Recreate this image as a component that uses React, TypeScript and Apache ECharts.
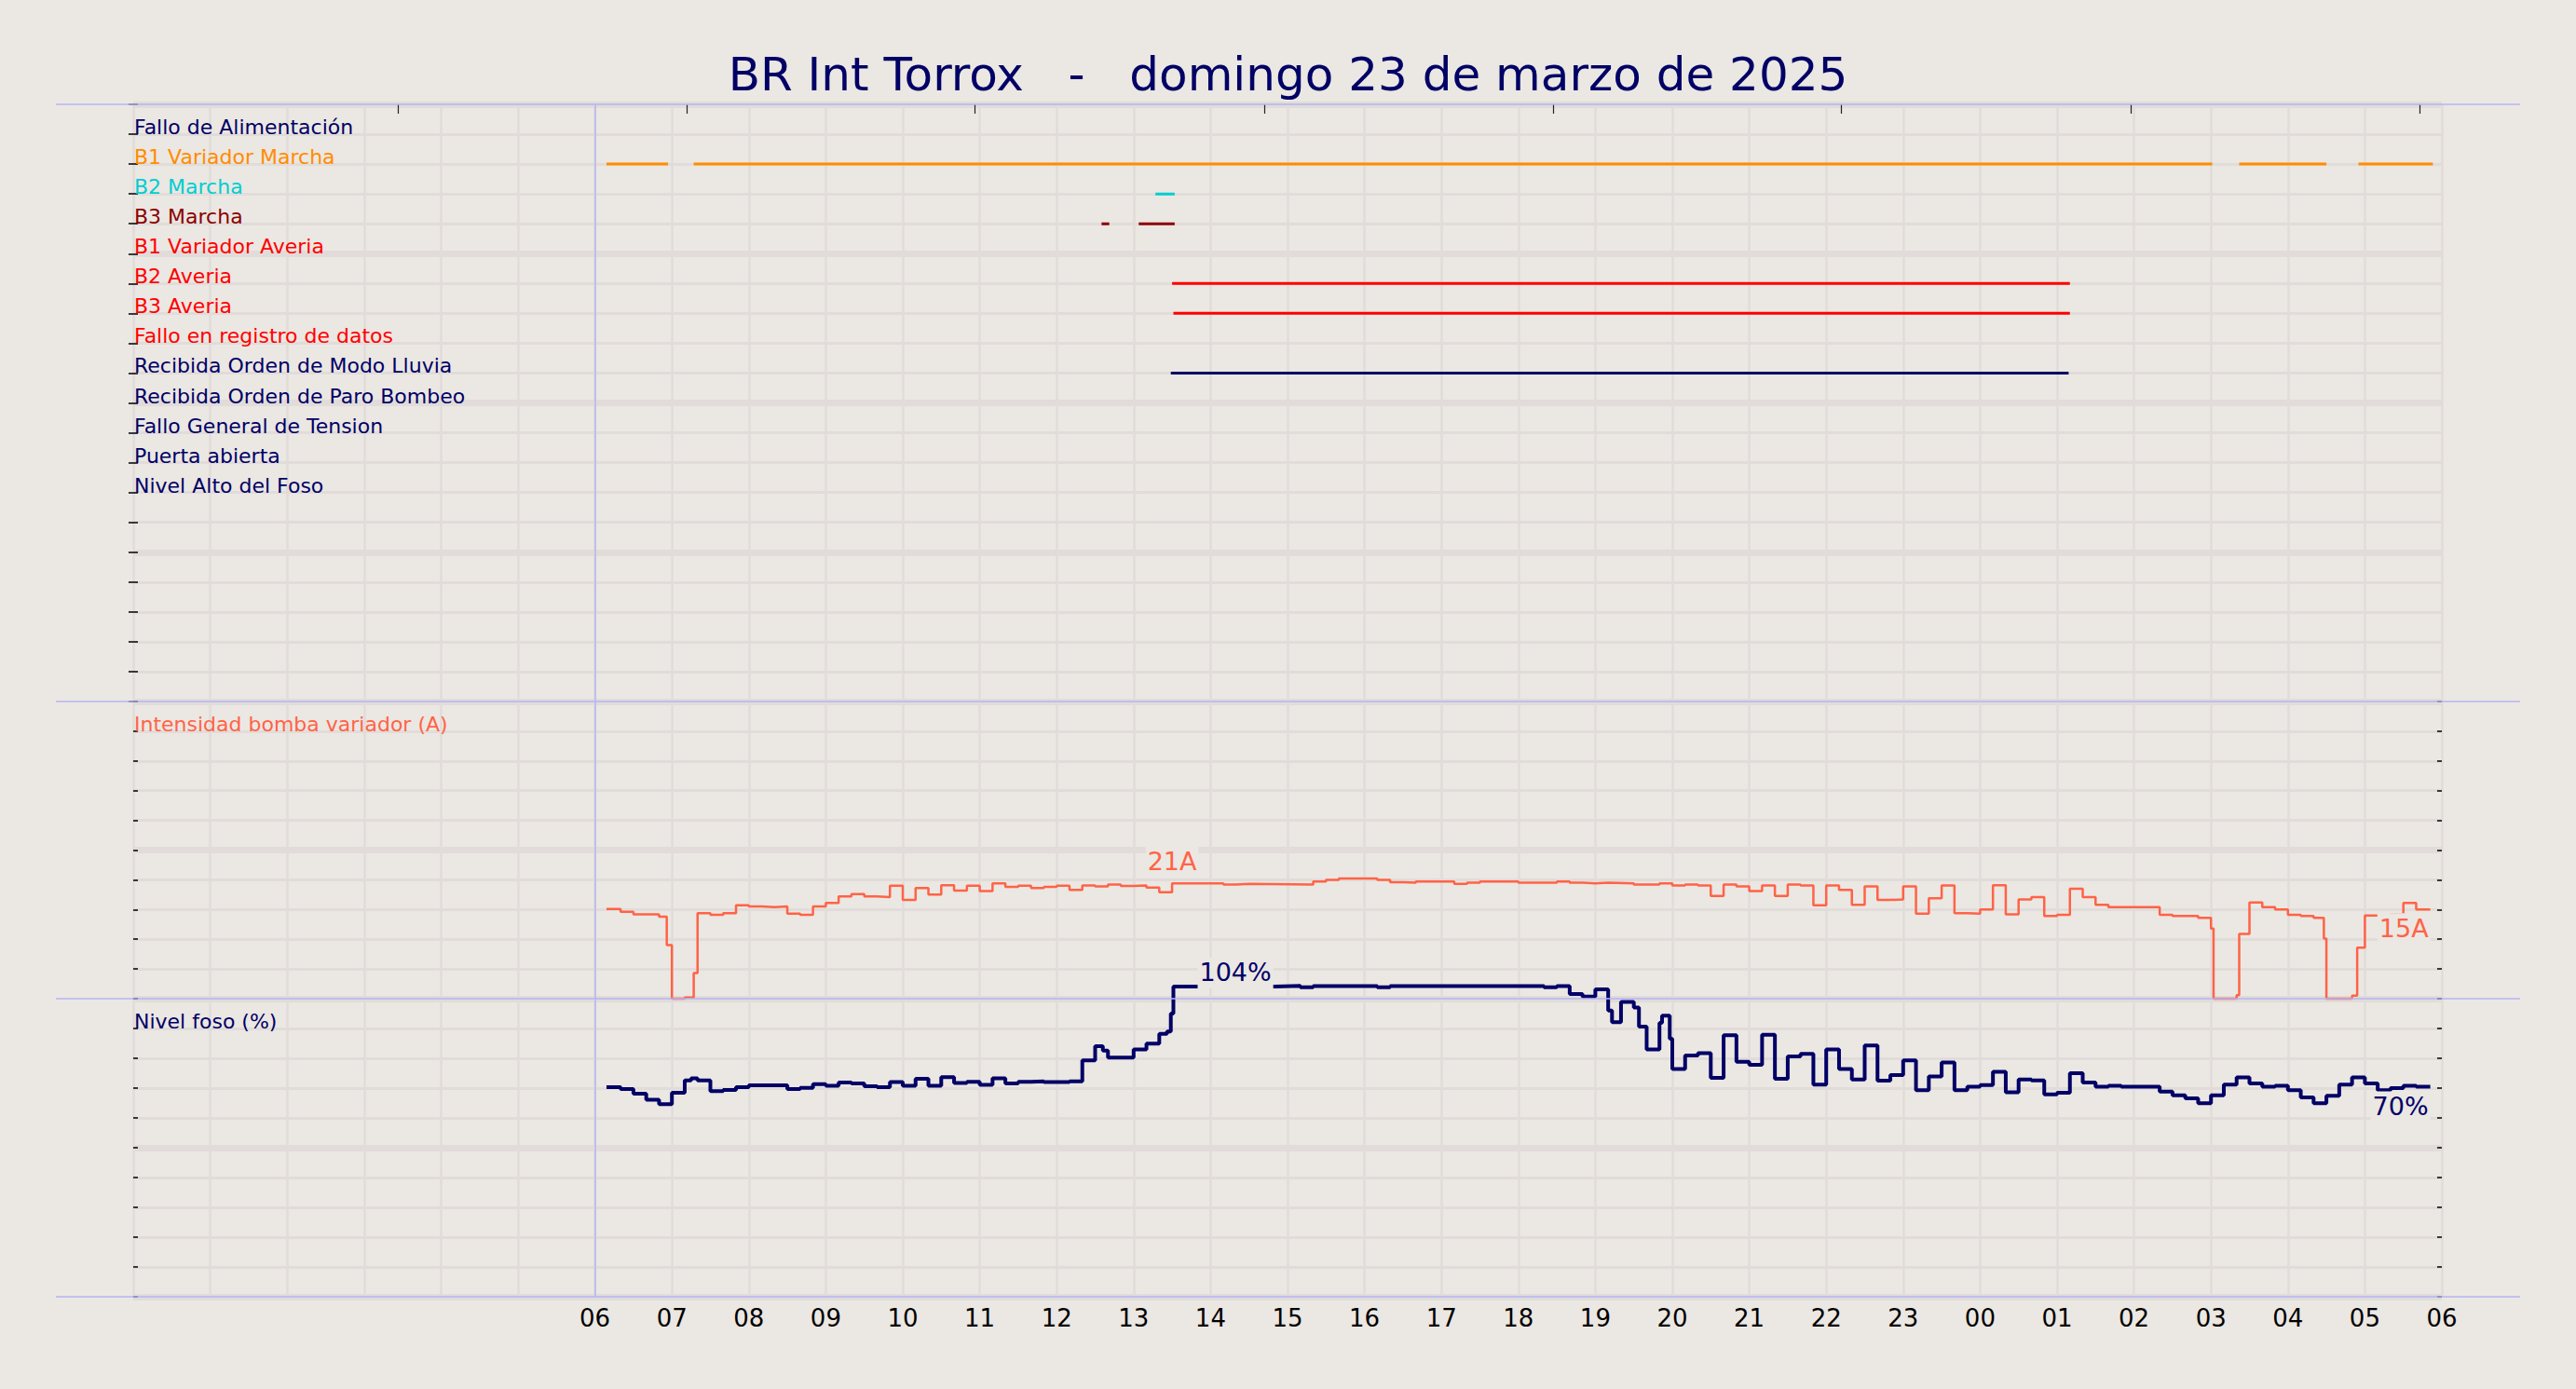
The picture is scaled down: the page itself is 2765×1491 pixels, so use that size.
import React, { useEffect, useRef } from 'react';
import * as echarts from 'echarts';

// ---------- colours ----------
const BG = '#ebe7e2';
const GRIDC = '#e1dcda';
const NAVY = '#000066';
const BLUE = '#b4b4f4';
const TOMATO = '#ff6347';
const FONT = 'DejaVu Sans';

// ---------- texts ----------
const titleText = 'BR Int Torrox   -   domingo 23 de marzo de 2025';
const intensidadName = 'Intensidad bomba variador (A)';
const nivelName = 'Nivel foso (%)';

// ---------- top axis tick positions (hours from 00:00) ----------
const topTicks = [3.44, 7.19, 10.94, 14.7, 18.45, 22.2, 25.96, 29.71];

// ---------- digital signals ----------
const signalNames = [
  'Fallo de Alimentación',
  'B1 Variador Marcha',
  'B2 Marcha',
  'B3 Marcha',
  'B1 Variador Averia',
  'B2 Averia',
  'B3 Averia',
  'Fallo en registro de datos',
  'Recibida Orden de Modo Lluvia',
  'Recibida Orden de Paro Bombeo',
  'Fallo General de Tension',
  'Puerta abierta',
  'Nivel Alto del Foso',
];
const signalColors = [
  NAVY, '#ff8c00', '#00ced1', '#8b0000', '#ff0000', '#ff0000', '#ff0000', '#ff0000',
  NAVY, NAVY, NAVY, NAVY, NAVY,
];
const falloAlimentacion: string[][] = [];
const b1VariadorMarcha = [['06:09', '06:57'], ['07:17', '+03:01'], ['+03:22', '+04:30'], ['+04:55', '+05:53']];
const b2Marcha = [['13:17', '13:32']];
const b3Marcha = [['12:35', '12:41'], ['13:04', '13:32']];
const b1VariadorAveria: string[][] = [];
const b2Averia = [['13:30', '+01:10']];
const b3Averia = [['13:31', '+01:10']];
const falloRegistro: string[][] = [];
const modoLluvia = [['13:29', '+01:09']];
const paroBombeo: string[][] = [];
const falloTension: string[][] = [];
const puertaAbierta: string[][] = [];
const nivelAlto: string[][] = [];
const signalIntervals = [
  falloAlimentacion, b1VariadorMarcha, b2Marcha, b3Marcha, b1VariadorAveria, b2Averia,
  b3Averia, falloRegistro, modoLluvia, paroBombeo, falloTension, puertaAbierta, nivelAlto,
];

// ---------- analog series (time, value) ; "+" = next day ----------
const intensidad: [string, number][] = [
  ['06:09', 15.1], ['06:20', 14.6], ['06:30', 14.2], ['06:50', 13.8], ['06:56', 9.0], ['07:00', 0],
  ['07:10', 0.2], ['07:17', 4.3], ['07:20', 14.4], ['07:30', 14.1], ['07:40', 14.4], ['07:50', 15.7],
  ['08:00', 15.5], ['08:10', 15.4], ['08:20', 15.5], ['08:30', 14.3], ['08:40', 14.1], ['08:50', 15.5],
  ['09:00', 16.1], ['09:10', 17.2], ['09:20', 17.6], ['09:30', 17.2], ['09:40', 17.1], ['09:50', 19.0],
  ['10:00', 16.6], ['10:10', 18.6], ['10:20', 17.5], ['10:30', 19.1], ['10:40', 18.2], ['10:50', 19.0],
  ['11:00', 18.1], ['11:10', 19.4], ['11:20', 18.8], ['11:30', 19.0], ['11:40', 18.6], ['11:50', 18.8],
  ['12:00', 19.0], ['12:10', 18.3], ['12:20', 19.05], ['12:30', 18.9], ['12:40', 19.2], ['12:50', 18.95],
  ['13:00', 19.05], ['13:10', 18.7], ['13:20', 17.9], ['13:30', 19.4], ['14:10', 19.2], ['14:20', 19.3],
  ['14:30', 19.2], ['15:20', 19.7], ['15:30', 20.0], ['15:40', 20.2], ['16:10', 20.0], ['16:20', 19.6],
  ['16:30', 19.5], ['16:40', 19.7], ['17:10', 19.3], ['17:20', 19.5], ['17:30', 19.7], ['18:00', 19.5],
  ['18:30', 19.7], ['18:40', 19.5], ['18:50', 19.4], ['19:00', 19.5], ['19:10', 19.4], ['19:30', 19.2],
  ['19:50', 19.4], ['20:00', 19.05], ['20:10', 19.2], ['20:20', 19.05], ['20:30', 17.3], ['20:40', 19.2],
  ['20:50', 18.9], ['21:00', 18.1], ['21:10', 19.05], ['21:20', 17.3], ['21:30', 19.2], ['21:40', 19.05],
  ['21:50', 15.7], ['22:00', 19.05], ['22:10', 18.3], ['22:20', 15.8], ['22:30', 18.9], ['22:40', 16.6],
  ['22:50', 16.7], ['23:00', 18.9], ['23:10', 14.3], ['23:20', 16.9], ['23:30', 19.05], ['23:40', 14.4],
  ['23:50', 14.3], ['+00:00', 15.0], ['+00:10', 19.1], ['+00:20', 14.2], ['+00:30', 16.7], ['+00:40', 17.1],
  ['+00:50', 13.9], ['+01:00', 14.1], ['+01:10', 18.5], ['+01:20', 17.1], ['+01:30', 15.8], ['+01:40', 15.4],
  ['+02:20', 14.1], ['+02:30', 13.9], ['+02:50', 13.6], ['+03:00', 11.8], ['+03:02', 0], ['+03:20', 0.6],
  ['+03:22', 10.9], ['+03:30', 16.2], ['+03:40', 15.4], ['+03:50', 15.0], ['+04:00', 14.1], ['+04:10', 13.9],
  ['+04:20', 13.6], ['+04:28', 10.1], ['+04:30', 0], ['+04:50', 0.5], ['+04:54', 8.6], ['+05:00', 14.0],
  ['+05:20', 14.2], ['+05:30', 16.1], ['+05:40', 15.0], ['+05:51', 15.0],
];

const nivel: [string, number][] = [
  ['06:09', 70.3], ['06:20', 69.7], ['06:30', 68.1], ['06:40', 66.1], ['06:50', 64.6], ['07:00', 68.4],
  ['07:10', 72.6], ['07:15', 73.3], ['07:20', 72.6], ['07:30', 69.0], ['07:40', 69.4], ['07:50', 70.3],
  ['08:00', 70.9], ['08:30', 69.7], ['08:40', 70.1], ['08:50', 71.3], ['09:00', 70.8], ['09:10', 71.9],
  ['09:20', 71.6], ['09:30', 70.6], ['09:40', 70.3], ['09:50', 72.0], ['10:00', 70.8], ['10:10', 73.1],
  ['10:20', 70.8], ['10:30', 73.7], ['10:40', 71.7], ['10:50', 72.1], ['11:00', 71.1], ['11:10', 73.3],
  ['11:20', 71.6], ['11:30', 72.1], ['11:40', 72.3], ['11:50', 72.0], ['12:10', 72.3], ['12:20', 79.3],
  ['12:30', 84.1], ['12:36', 82.6], ['12:40', 80.2], ['13:00', 83.0], ['13:10', 84.9], ['13:20', 88.2],
  ['13:26', 89.0], ['13:29', 95.0], ['13:31', 104.1], ['14:50', 104.3], ['15:10', 103.8], ['15:20', 104.2],
  ['16:10', 103.8], ['16:20', 104.2], ['18:20', 103.8], ['18:30', 104.2], ['18:40', 101.6], ['18:50', 100.7],
  ['19:00', 103.1], ['19:10', 96.0], ['19:13', 92.1], ['19:20', 98.9], ['19:30', 97.0], ['19:34', 90.6],
  ['19:40', 83.0], ['19:50', 91.9], ['19:52', 94.3], ['19:58', 86.6], ['20:00', 76.4], ['20:10', 80.9],
  ['20:20', 81.7], ['20:30', 73.4], ['20:40', 87.7], ['20:50', 78.8], ['21:00', 77.8], ['21:10', 87.9],
  ['21:20', 73.1], ['21:30', 80.6], ['21:40', 81.5], ['21:50', 71.2], ['22:00', 83.0], ['22:10', 76.4],
  ['22:20', 72.9], ['22:30', 84.3], ['22:40', 72.5], ['22:50', 74.4], ['23:00', 79.3], ['23:10', 69.3],
  ['23:20', 73.9], ['23:30', 78.6], ['23:40', 69.3], ['23:50', 70.5], ['+00:00', 71.0], ['+00:10', 75.5],
  ['+00:20', 68.6], ['+00:30', 72.9], ['+00:40', 72.6], ['+00:50', 67.9], ['+01:00', 68.4], ['+01:10', 75.0],
  ['+01:20', 71.9], ['+01:30', 70.5], ['+01:40', 70.8], ['+01:50', 70.5], ['+02:20', 68.8], ['+02:30', 67.6],
  ['+02:40', 66.6], ['+02:50', 64.9], ['+03:00', 67.6], ['+03:10', 71.2], ['+03:20', 73.6], ['+03:30', 71.6],
  ['+03:40', 70.5], ['+03:50', 70.8], ['+04:00', 69.3], ['+04:10', 66.9], ['+04:20', 64.9], ['+04:30', 67.4],
  ['+04:40', 71.2], ['+04:50', 73.6], ['+05:00', 71.6], ['+05:10', 69.3], ['+05:20', 70.0], ['+05:30', 70.8],
  ['+05:40', 70.5], ['+05:51', 70.5],
];

// annotations: [anchor time, text]
const intensidadPeakNote: [string, string] = ['13:30', '21A'];
const intensidadLastNote: [string, string] = ['+05:51', '15A'];
const nivelPeakNote: [string, string] = ['13:31', '104%'];
const nivelLastNote: [string, string] = ['+05:51', '70%'];

// ---------- helpers ----------
const hours = (s: string) => {
  const next = s.startsWith('+');
  const [h, m] = s.replace('+', '').split(':').map(Number);
  return h + m / 60 + (next ? 24 : 0);
};
const toXY = (arr: [string, number][]) => arr.map(([t, v]) => [hours(t), v]);
const valueAt = (arr: [string, number][], t: string) => {
  const found = arr.find((d) => d[0] === t);
  return found ? found[1] : 0;
};

// ---------- layout ----------
const W = 2765;
const H = 1491;
const LEFT = 143;
const RIGHT = W - 2621;
const P1_TOP = 112;
const P1_BOT = 753;
const P2_BOT = 1072;
const P3_BOT = 1392;

export default function App() {
  const ref = useRef<HTMLDivElement>(null);

  useEffect(() => {
    if (!ref.current) return;
    const chart = echarts.init(ref.current, null, { renderer: 'svg', width: W, height: H });

    const grids = [
      { left: LEFT, right: RIGHT, top: P1_TOP, height: P1_BOT - P1_TOP },
      { left: LEFT, right: RIGHT, top: P1_BOT, height: P2_BOT - P1_BOT },
      { left: LEFT, right: RIGHT, top: P2_BOT, height: P3_BOT - P2_BOT },
    ];

    const mainX = (gridIndex: number, labels: boolean) => ({
      type: 'value',
      gridIndex,
      min: 0,
      max: 30,
      interval: 1,
      axisLine: { show: false },
      axisTick: { show: false },
      splitLine: { show: true, lineStyle: { color: GRIDC, width: 2.5 } },
      axisLabel: labels
        ? {
            show: true,
            margin: 10,
            fontSize: 26,
            fontFamily: FONT,
            color: '#000',
            formatter: (v: number) => (v >= 6 ? String(v % 24).padStart(2, '0') : ''),
          }
        : { show: false },
    });

    const minorY = (gridIndex: number, max: number, interval: number, inverse: boolean, labelFn: any, colorFn: any) => ({
      type: 'value',
      gridIndex,
      min: 0,
      max,
      interval,
      inverse,
      position: 'left',
      axisLine: { show: false },
      axisTick: { show: true, inside: true, length: 5, lineStyle: { color: '#000', width: 1.5 } },
      splitLine: { show: true, lineStyle: { color: GRIDC, width: 3 } },
      axisLabel: {
        show: true,
        inside: true,
        margin: 1,
        fontSize: 22,
        fontFamily: FONT,
        verticalAlign: 'bottom',
        lineHeight: 15,
        formatter: labelFn,
        color: colorFn,
      },
    });
    const rightY = (gridIndex: number, max: number, interval: number, inverse: boolean) => ({
      type: 'value',
      gridIndex,
      min: 0,
      max,
      interval,
      inverse,
      position: 'right',
      axisLine: { show: false },
      axisTick: { show: true, inside: true, length: 5, lineStyle: { color: '#000', width: 1.5 } },
      splitLine: { show: false },
      axisLabel: { show: false },
    });
    const majorY = (gridIndex: number, max: number, interval: number, inverse: boolean) => ({
      type: 'value',
      gridIndex,
      min: 0,
      max,
      interval,
      inverse,
      position: 'left',
      axisLine: { show: false },
      axisTick: { show: false },
      splitLine: { show: true, lineStyle: { color: GRIDC, width: 7 } },
      axisLabel: { show: false },
    });

    const xAxis = [
      mainX(0, false),
      {
        type: 'value',
        gridIndex: 0,
        position: 'top',
        min: 0,
        max: 30,
        axisLine: { show: false },
        axisLabel: { show: false },
        splitLine: { show: false },
        axisTick: {
          show: true,
          inside: true,
          length: 10,
          customValues: topTicks,
          lineStyle: { color: '#222', width: 1.2 },
        },
      },
      mainX(1, false),
      mainX(2, true),
    ];

    const yAxis = [
      minorY(
        0, 20, 1, true,
        (v: any) => signalNames[Number(v) - 1] || '',
        (v: any) => signalColors[Number(v) - 1] || NAVY
      ),
      rightY(0, 20, 1, true),
      majorY(0, 20, 5, true),
      minorY(1, 50, 5, false, (v: any) => (Number(v) === 45 ? intensidadName : ''), () => TOMATO),
      rightY(1, 50, 5, false),
      majorY(1, 50, 25, false),
      minorY(2, 100, 10, false, (v: any) => (Number(v) === 90 ? nivelName : ''), () => NAVY),
      rightY(2, 100, 10, false),
      majorY(2, 100, 50, false),
    ];

    const blueMark = {
      silent: true,
      symbol: 'none',
      label: { show: false },
      lineStyle: { color: BLUE, width: 1.5, type: 'solid' },
      data: [{ xAxis: 6 }],
    };

    const series: any[] = [];
    signalIntervals.forEach((intervals, i) => {
      intervals.forEach(([a, b], k) => {
        series.push({
          type: 'line',
          xAxisIndex: 0,
          yAxisIndex: 0,
          data: [[hours(a), i + 1], [hours(b), i + 1]],
          showSymbol: false,
          silent: true,
          lineStyle: { color: signalColors[i], width: 3 },
          z: 3,
          ...(i === 1 && k === 0 ? { markLine: blueMark } : {}),
        });
      });
    });

    series.push({
      type: 'line',
      xAxisIndex: 2,
      yAxisIndex: 3,
      step: 'end',
      data: toXY(intensidad),
      showSymbol: false,
      silent: true,
      clip: false,
      lineStyle: { color: TOMATO, width: 2.5 },
      z: 3,
      markLine: blueMark,
    });
    series.push({
      type: 'line',
      xAxisIndex: 3,
      yAxisIndex: 6,
      step: 'end',
      data: toXY(nivel),
      showSymbol: false,
      silent: true,
      clip: false,
      lineStyle: { color: NAVY, width: 4 },
      z: 3,
      markLine: blueMark,
    });

    const note = (
      xi: number, yi: number, arr: [string, number][], n: [string, string], color: string,
      position: string, align: string, distance: number, offset: number[]
    ) => ({
      type: 'scatter',
      xAxisIndex: xi,
      yAxisIndex: yi,
      silent: true,
      clip: false,
      symbol: 'circle',
      symbolSize: 2,
      itemStyle: { color: 'rgba(0,0,0,0)' },
      z: 6,
      data: [{ value: [hours(n[0]), valueAt(arr, n[0])], name: n[1] }],
      label: {
        show: true,
        formatter: () => n[1],
        position,
        align,
        distance,
        offset,
        color,
        opacity: 1,
        textBorderWidth: 0,
        fontSize: 27,
        fontFamily: FONT,
        lineHeight: 28,
        backgroundColor: BG,
        padding: [2, 2, 3, 2],
      },
    });
    series.push(note(2, 3, intensidad, intensidadPeakNote, TOMATO, 'top', 'center', 6, [0, 0]));
    series.push(note(2, 3, intensidad, intensidadLastNote, TOMATO, 'bottom', 'right', 3, [0, 0]));
    series.push(note(3, 6, nivel, nivelPeakNote, NAVY, 'top', 'left', -3, [26, 0]));
    series.push(note(3, 6, nivel, nivelLastNote, NAVY, 'bottom', 'right', 4, [0, 0]));

    const hLine = (y: number) => ({
      type: 'line',
      silent: true,
      z: 20,
      shape: { x1: 60, y1: y, x2: 2705, y2: y },
      style: { stroke: BLUE, lineWidth: 1.5 },
    });

    chart.setOption({
      animation: false,
      backgroundColor: BG,
      title: {
        text: titleText,
        left: 'center',
        top: 50,
        textStyle: { fontSize: 50, fontWeight: 'normal', color: NAVY, fontFamily: FONT },
      },
      grid: grids,
      xAxis,
      yAxis,
      series,
      graphic: [hLine(P1_TOP), hLine(P1_BOT), hLine(P2_BOT), hLine(P3_BOT)],
    } as any);

    return () => chart.dispose();
  }, []);

  return (
    <div
      ref={ref}
      style={{ position: 'fixed', left: 0, top: 0, width: W, height: H, background: BG }}
    />
  );
}
